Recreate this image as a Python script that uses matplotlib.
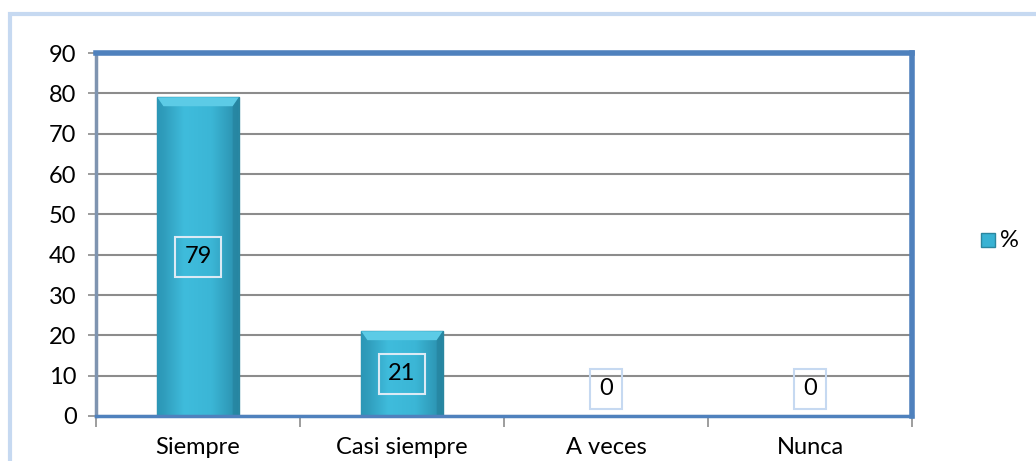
import matplotlib
matplotlib.use("Agg")
import matplotlib.pyplot as plt
import numpy as np
from matplotlib.patches import Rectangle, Polygon
from matplotlib.colors import LinearSegmentedColormap

categories = ["Siempre", "Casi siempre", "A veces", "Nunca"]
values = [79, 21, 0, 0]
series_name = "%"
yticks = [0, 10, 20, 30, 40, 50, 60, 70, 80, 90]

plt.rcParams['font.family'] = ['Lato', 'DejaVu Sans']
FS = 17

fig = plt.figure(figsize=(10.36, 4.61), dpi=100)
fig.patch.set_facecolor('white')

# outer light frame
fig.add_artist(Rectangle((10/1036, -0.1), 1.2, 1 - 14/461 + 0.1, transform=fig.transFigure,
                         fill=False, edgecolor='#C6D9F1', linewidth=3))

ax = fig.add_axes([96/1036, 1 - 416/461, (912 - 96)/1036, (416 - 53)/461])
ax.set_xlim(-0.5, len(categories) - 0.5)
ax.set_ylim(0, 90)
ax.set_yticks(yticks)
ax.set_yticklabels([str(t) for t in yticks], fontsize=FS)
ax.yaxis.grid(True, color='#8C8C8C', linewidth=1.5)
ax.set_axisbelow(True)

for s in ['top', 'right']:
    ax.spines[s].set_color('#4F81BD')
    ax.spines[s].set_linewidth(4)
ax.spines['left'].set_color('#7F94B0')
ax.spines['left'].set_linewidth(2.5)
ax.spines['bottom'].set_color('#4F81BD')
ax.spines['bottom'].set_linewidth(2.5)

ax.tick_params(axis='y', length=6, width=1.2, color='#8C8C8C', pad=8)
ax.set_xticks(np.arange(len(categories)))
ax.set_xticklabels(categories, fontsize=FS)
ax.tick_params(axis='x', length=0, pad=15)
ax.set_xticks(np.arange(len(categories) + 1) - 0.5, minor=True)
ax.tick_params(axis='x', which='minor', length=8, width=1.2, color='#8C8C8C')

cmap = LinearSegmentedColormap.from_list('bar', ['#2B93B2', '#3FBCDC', '#3BB6D6', '#2A8EAC'])
width = 0.4
bars = ax.bar(np.arange(len(categories)), values, width=width, color='#38B2D3',
              edgecolor='#2A869F', linewidth=1.0, zorder=2)
for b in bars:
    h = b.get_height()
    if h <= 0:
        continue
    x0 = b.get_x()
    grad = np.linspace(0, 1, 100).reshape(1, -1)
    im = ax.imshow(grad, extent=[x0, x0 + width, 0, h], aspect='auto', cmap=cmap,
                   zorder=2.1, origin='lower')
    im.set_clip_path(b)
    bev_w = 0.03
    bev_h = 2.2
    top = Polygon([[x0, h], [x0 + width, h], [x0 + width - bev_w, h - bev_h], [x0 + bev_w, h - bev_h]],
                  closed=True, facecolor='#5CCBE6', edgecolor='none', zorder=2.2)
    ax.add_patch(top)
    left = Polygon([[x0, h], [x0 + bev_w, h - bev_h], [x0 + bev_w, 0], [x0, 0]],
                   closed=True, facecolor='#2E9CBC', edgecolor='none', alpha=0.5, zorder=2.2)
    ax.add_patch(left)
    right = Polygon([[x0 + width, h], [x0 + width - bev_w, h - bev_h], [x0 + width - bev_w, 0], [x0 + width, 0]],
                    closed=True, facecolor='#237D97', edgecolor='none', alpha=0.5, zorder=2.2)
    ax.add_patch(right)

for i, v in enumerate(values):
    y = max(v / 2, 6.7)
    ec = '#DCEAF5' if v > 0 else '#C6D9F1'
    ax.text(i, y, str(v), ha='center', va='center', fontsize=FS, color='black', zorder=4,
            bbox=dict(boxstyle='square,pad=0.4', facecolor='none', edgecolor=ec, linewidth=1.5))

# legend (drawn in figure coordinates)
fig.add_artist(Rectangle((981/1036, 1 - 247/461), 14/1036, 14/461, transform=fig.transFigure,
                         facecolor='#38B2D3', edgecolor='#2A869F', linewidth=1))
fig.text(1000/1036, 1 - 240/461, series_name, ha='left', va='center', fontsize=FS)

fig.savefig('out.png', dpi=100)
